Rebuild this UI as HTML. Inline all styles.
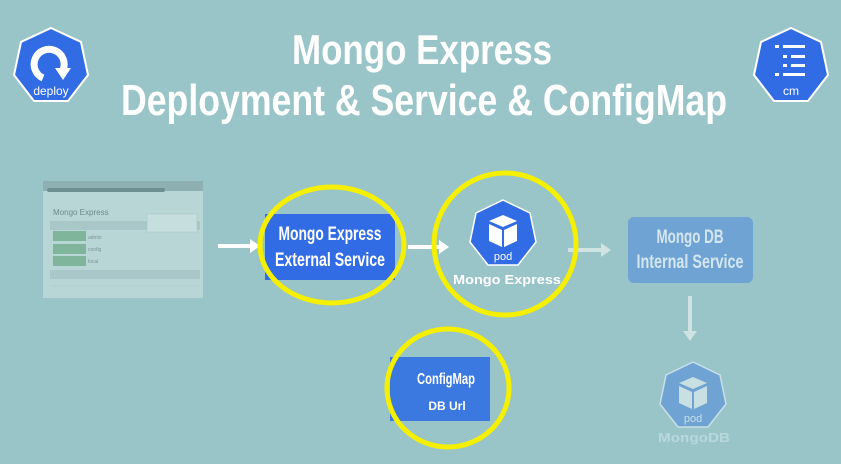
<!DOCTYPE html>
<html><head><meta charset="utf-8"><style>
html,body{margin:0;padding:0;background:#99c5c8;}
svg{display:block}
</style></head><body>
<svg width="841" height="464" viewBox="0 0 841 464" xmlns="http://www.w3.org/2000/svg" font-family="Liberation Sans, sans-serif">
<rect width="841" height="464" fill="#99c5c8"/>
<!-- title -->
<text x="422" y="64" fill="#fff" font-size="42" font-weight="bold" text-anchor="middle" textLength="260" lengthAdjust="spacingAndGlyphs">Mongo Express</text>
<text x="424" y="115" fill="#fff" font-size="44" font-weight="bold" text-anchor="middle" textLength="606" lengthAdjust="spacingAndGlyphs">Deployment &amp; Service &amp; ConfigMap</text>
<!-- deploy icon -->
<g transform="translate(51,66)">
<polygon points="0,-38 30,-24 37,9 17,35 -17,35 -37,9 -30,-24" fill="#326ce5" stroke="#fff" stroke-width="2"/>
<path d="M -8 12 A 15 15 0 1 1 12 4" fill="none" stroke="#fff" stroke-width="7"/>
<polygon points="4,2 20,2 12,14" fill="#fff"/>
<text x="0" y="29" fill="#fff" font-size="12" text-anchor="middle">deploy</text>
</g>
<!-- cm icon -->
<g transform="translate(791,66)">
<polygon points="0,-38 30,-24 37,9 17,35 -17,35 -37,9 -30,-24" fill="#326ce5" stroke="#fff" stroke-width="2"/>
<rect x="-16" y="-21" width="4" height="3" fill="#fff"/><rect x="-8" y="-21" width="22" height="3" fill="#fff"/>
<rect x="-8" y="-11" width="4" height="3" fill="#fff"/><rect x="0" y="-11" width="14" height="3" fill="#fff"/>
<rect x="-8" y="-2" width="4" height="3" fill="#fff"/><rect x="0" y="-2" width="14" height="3" fill="#fff"/>
<rect x="-16" y="7" width="4" height="3" fill="#fff"/><rect x="-8" y="7" width="22" height="3" fill="#fff"/>
<text x="0" y="29" fill="#fff" font-size="12" text-anchor="middle">cm</text>
</g>
<!-- browser screenshot -->
<g>
<rect x="43" y="181" width="160" height="117" fill="#b9d6d6"/>
<rect x="43" y="181" width="160" height="10" fill="#8fb0b2"/>
<rect x="47" y="188" width="118" height="4" fill="#6e8f91" rx="2"/>
<text x="53" y="215" fill="#6e8a8c" font-size="8">Mongo Express</text>
<rect x="50" y="221" width="150" height="9" fill="#a9c7c8"/>
<rect x="53" y="231" width="33" height="10" fill="#7fb59a"/>
<rect x="53" y="244" width="33" height="10" fill="#7fb59a"/>
<rect x="53" y="256" width="33" height="10" fill="#7fb59a"/>
<text x="88" y="239" fill="#7a9496" font-size="5">admin</text>
<text x="88" y="251" fill="#7a9496" font-size="5">config</text>
<text x="88" y="263" fill="#7a9496" font-size="5">local</text>
<rect x="147" y="214" width="50" height="18" fill="#c6dede" stroke="#a8c4c5" stroke-width="0.5"/>
<rect x="50" y="270" width="150" height="9" fill="#a9c7c8"/>
<line x1="50" y1="286" x2="200" y2="286" stroke="#a9c7c8" stroke-width="0.5"/>
</g>
<!-- arrows -->
<line x1="218" y1="246" x2="252" y2="246" stroke="#fff" stroke-width="4"/>
<polygon points="250,239 260,246 250,253" fill="#fff"/>
<line x1="408" y1="247" x2="440" y2="247" stroke="#fff" stroke-width="4"/>
<polygon points="439,240 449,247 439,254" fill="#fff"/>
<line x1="568" y1="250" x2="602" y2="250" stroke="#cfe3e3" stroke-width="4"/>
<polygon points="601,243 611,250 601,257" fill="#cfe3e3"/>
<line x1="690" y1="296" x2="690" y2="332" stroke="#cfe3e3" stroke-width="4"/>
<polygon points="683,331 690,341 697,331" fill="#cfe3e3"/>
<!-- external service -->
<rect x="265" y="214" width="130" height="66" fill="#326ce5"/>
<text x="330" y="240" fill="#fff" font-size="19" font-weight="bold" text-anchor="middle" textLength="103" lengthAdjust="spacingAndGlyphs">Mongo Express</text>
<text x="330" y="266" fill="#fff" font-size="19" font-weight="bold" text-anchor="middle" textLength="110" lengthAdjust="spacingAndGlyphs">External Service</text>
<ellipse cx="332" cy="245" rx="72" ry="58" fill="none" stroke="#f5ef00" stroke-width="5"/>
<!-- mongo express pod -->
<g transform="translate(503,233)">
<polygon points="0,-33 27,-20 33,9 15,32 -15,32 -33,9 -27,-20" fill="#326ce5" stroke="#fff" stroke-width="1.5"/>
<polygon points="-14,-12 0,-18 14,-12 0,-6" fill="#fff"/>
<polygon points="-14,-9 -1,-3 -1,14 -14,8" fill="#fff"/>
<polygon points="14,-9 1,-3 1,14 14,8" fill="#fff"/>
<text x="0" y="27" fill="#fff" font-size="11" text-anchor="middle">pod</text>
</g>
<text x="507" y="284" fill="#fff" font-size="13" font-weight="bold" text-anchor="middle" textLength="108" lengthAdjust="spacingAndGlyphs">Mongo Express</text>
<circle cx="505" cy="244" r="71" fill="none" stroke="#f5ef00" stroke-width="5"/>
<!-- mongo db service (faded) -->
<rect x="628" y="217" width="125" height="66" rx="6" fill="#6fa3d4"/>
<text x="690" y="243" fill="#d4e6ee" font-size="19" font-weight="bold" text-anchor="middle" textLength="67" lengthAdjust="spacingAndGlyphs">Mongo DB</text>
<text x="690" y="268" fill="#d4e6ee" font-size="19" font-weight="bold" text-anchor="middle" textLength="107" lengthAdjust="spacingAndGlyphs">Internal Service</text>
<!-- mongodb pod faded -->
<g transform="translate(693,395)">
<polygon points="0,-33 27,-20 33,9 15,32 -15,32 -33,9 -27,-20" fill="#6fa3d4" stroke="#c8e0e6" stroke-width="1.5"/>
<polygon points="-14,-12 0,-18 14,-12 0,-6" fill="#c8e0e2"/>
<polygon points="-14,-9 -1,-3 -1,14 -14,8" fill="#c8e0e2"/>
<polygon points="14,-9 1,-3 1,14 14,8" fill="#c8e0e2"/>
<text x="0" y="27" fill="#c8e0e6" font-size="11" text-anchor="middle">pod</text>
</g>
<text x="694" y="442" fill="#b8d8dc" font-size="13" font-weight="bold" text-anchor="middle" textLength="72" lengthAdjust="spacingAndGlyphs">MongoDB</text>
<!-- configmap -->
<rect x="390" y="357" width="100" height="64" fill="#3b78e0"/>
<text x="446" y="384" fill="#fff" font-size="16" font-weight="bold" text-anchor="middle" textLength="58" lengthAdjust="spacingAndGlyphs">ConfigMap</text>
<text x="447" y="410" fill="#fff" font-size="12" font-weight="bold" text-anchor="middle">DB Url</text>
<ellipse cx="448" cy="388" rx="61" ry="59" fill="none" stroke="#f5ef00" stroke-width="5"/>
</svg>
</body></html>
